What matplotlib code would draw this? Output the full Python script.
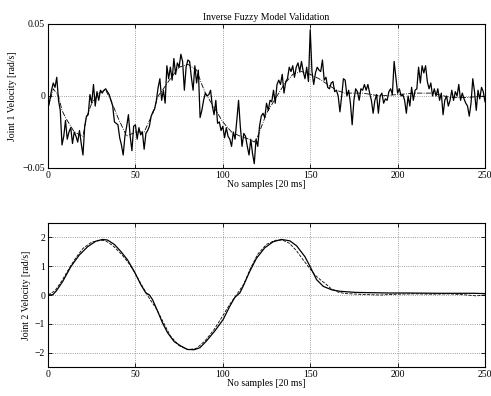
import numpy as np
import matplotlib
matplotlib.use('Agg')
import matplotlib.pyplot as plt

# joint 1 measured velocity, one value per sample (0..250)
j1_meas = [-0.0085, -0.003, 0.004, 0.009, 0.006, 0.013, -0.003, -0.010, -0.034, -0.028,
           -0.017, -0.030, -0.025, -0.022, -0.033, -0.025, -0.028, -0.032, -0.024, -0.033,
           -0.041, -0.021, -0.014, -0.013, 0.001, -0.005, 0.008, -0.007, 0.003, -0.003,
           0.004, 0.002, 0.004, 0.005, 0.003, 0.001, -0.003, -0.007, -0.018, -0.019,
           -0.020, -0.029, -0.034, -0.041, -0.028, -0.021, -0.013, -0.028, -0.038, -0.021,
           -0.020, -0.030, -0.022, -0.027, -0.025, -0.037, -0.026, -0.024, -0.021, -0.014,
           -0.011, -0.009, -0.003, 0.006, 0.012, -0.003, 0.004, -0.005, 0.021, 0.012,
           0.020, 0.011, 0.026, 0.015, 0.023, 0.020, 0.029, 0.024, 0.004, 0.020,
           0.025, 0.024, 0.013, 0.004, 0.021, 0.009, 0.018, -0.015, -0.010, -0.003,
           0.002, 0.000, 0.001, 0.004, -0.007, -0.013, -0.003, -0.019, -0.018, -0.024,
           -0.021, -0.029, -0.022, -0.028, -0.030, -0.035, -0.025, -0.030, -0.017, -0.003,
           -0.021, -0.035, -0.026, -0.028, -0.035, -0.041, -0.030, -0.040, -0.047, -0.030,
           -0.035, -0.021, -0.014, -0.012, -0.015, -0.005, -0.010, -0.003, -0.004, 0.004,
           -0.005, 0.008, 0.011, 0.008, 0.015, 0.002, 0.010, 0.012, 0.020, 0.017,
           0.021, 0.013, 0.020, 0.023, 0.017, 0.024, 0.017, 0.012, 0.020, 0.010,
           0.046, 0.017, 0.008, 0.016, 0.020, 0.018, 0.017, 0.025, 0.011, 0.013,
           0.006, 0.005, 0.009, 0.010, 0.003, 0.004, 0.000, -0.011, 0.000, 0.012,
           0.011, 0.000, 0.004, -0.005, -0.020, -0.003, 0.005, 0.003, -0.003, 0.005,
           0.004, 0.008, 0.004, 0.008, 0.002, -0.003, -0.012, -0.003, 0.001, -0.012,
           0.000, 0.002, -0.005, -0.002, -0.003, 0.003, 0.005, 0.001, 0.024, 0.013,
           0.002, 0.005, 0.000, 0.001, -0.003, -0.012, 0.000, -0.007, 0.006, -0.003,
           0.004, 0.005, 0.020, 0.009, 0.021, 0.016, 0.021, 0.010, 0.005, 0.009,
           0.000, 0.005, 0.000, 0.005, -0.003, 0.002, -0.013, -0.003, 0.000, -0.007,
           -0.003, 0.004, -0.003, 0.003, 0.000, 0.008, -0.003, 0.002, -0.002, -0.005,
           -0.007, -0.014, -0.005, 0.012, 0.003, -0.010, 0.004, -0.002, 0.006, 0.003,
           -0.004]

# joint 1 fuzzy model output
j1_mod_x = [0, 3, 6, 8, 10, 15, 20, 22, 25, 30, 33, 36, 40, 45, 50, 55, 60, 63, 66, 70,
            75, 80, 85, 88, 90, 95, 100, 105, 110, 115, 118, 120, 125, 130, 135, 140, 145,
            150, 155, 160, 165, 170, 180, 190, 200, 210, 220, 230, 240, 250]
j1_mod = [-0.008, 0.005, 0.0, -0.010, -0.015, -0.025, -0.028, -0.015, -0.005, 0.003, 0.004,
          -0.003, -0.015, -0.028, -0.025, -0.025, -0.012, 0.0, 0.005, 0.012,
          0.020, 0.022, 0.018, 0.008, 0.002, -0.008, -0.018, -0.025, -0.028, -0.030, -0.032,
          -0.028, -0.012, -0.002, 0.008, 0.015, 0.017,
          0.015, 0.012, 0.008, 0.004, 0.002, 0.002, 0.0, 0.001, 0.002, 0.002, -0.001, -0.001, 0.0]

# joint 2 measured velocity
j2_meas_x = [0, 2.7, 4.6, 8.4, 13.1, 17.9, 22.7, 27.4, 31.2, 34, 37.9, 41.7, 45.5, 49.3, 53.1,
             56, 57.9, 59.8, 62.7, 65.5, 68.4, 72.2, 76, 79.8, 83.6, 86.9, 90.6, 95.4, 100.2,
             104, 106.9, 109.7, 111.6, 115.4, 119.3, 124, 128.8, 133.6, 138.4, 142.2, 147,
             149.9, 153.7, 157.5, 162.3, 167, 176, 186, 195, 205, 224, 243, 250]
j2_meas = [0.0, 0.01, 0.13, 0.47, 0.99, 1.39, 1.68, 1.87, 1.93, 1.91, 1.76, 1.51, 1.22, 0.82,
           0.36, 0.07, 0.01, -0.16, -0.56, -0.97, -1.31, -1.62, -1.77, -1.89, -1.90, -1.83,
           -1.60, -1.25, -0.85, -0.39, -0.08, 0.07, 0.30, 0.82, 1.28, 1.64, 1.85, 1.93, 1.88,
           1.71, 1.33, 0.99, 0.53, 0.30, 0.18, 0.13, 0.09, 0.08, 0.07, 0.07, 0.06, 0.06, 0.05]

# joint 2 fuzzy model output
j2_mod_x = [0, 4, 8, 12, 16, 20, 25, 30, 33, 37, 42, 46, 50, 54, 58, 62, 66, 70, 75, 80, 85,
            90, 95, 100, 104, 108, 112, 116, 120, 125, 130, 134, 138, 142, 146, 150, 153, 156,
            159, 162, 166, 170, 180, 190, 200, 210, 220, 230, 240, 245, 250]
j2_mod = [0.0, 0.15, 0.50, 0.92, 1.30, 1.62, 1.84, 1.90, 1.88, 1.72, 1.42, 1.12, 0.74, 0.30,
          -0.12, -0.48, -0.95, -1.42, -1.76, -1.90, -1.85,
          -1.58, -1.20, -0.72, -0.32, 0.02, 0.38, 0.95, 1.42, 1.76, 1.90, 1.91, 1.80, 1.55,
          1.22, 0.90, 0.68, 0.52,
          0.38, 0.22, 0.10, 0.05, 0.02, 0.0, 0.03, 0.04, 0.03, 0.04, 0.0, -0.03, 0.0]

plt.rcParams['font.family'] = ['Liberation Serif', 'DejaVu Serif']
plt.rcParams['font.size'] = 7

fig = plt.figure(figsize=(4.91, 3.96), dpi=100)
ax1 = fig.add_axes([0.0978, 0.5758, 0.8900, 0.3636])
ax2 = fig.add_axes([0.0978, 0.0732, 0.8900, 0.3636])

ax1.plot(np.arange(len(j1_meas)), j1_meas, color='black', lw=0.9)
ax1.plot(j1_mod_x, j1_mod, color='black', lw=0.6, ls='-.')
ax1.set_ylim(-0.05, 0.05)
ax1.set_yticks([-0.05, 0, 0.05])
ax1.set_yticklabels(['\u22120.05', '0', '0.05'])
ax1.set_title('Inverse Fuzzy Model Validation', fontsize=7, pad=3)
ax1.set_ylabel('Joint 1 Velocity [rad/s]', labelpad=4)

ax2.plot(j2_meas_x, j2_meas, color='black', lw=0.9)
ax2.plot(j2_mod_x, j2_mod, color='black', lw=0.6, ls='--')
ax2.set_ylim(-2.5, 2.5)
ax2.set_yticks([-2, -1, 0, 1, 2])
ax2.set_yticklabels(['\u22122', '\u22121', '0', '1', '2'])
ax2.set_ylabel('Joint 2 Velocity [rad/s]', labelpad=3)

for ax in [ax1, ax2]:
    ax.set_xlim(0, 250)
    ax.set_xticks([0, 50, 100, 150, 200, 250])
    ax.set_xlabel('No samples [20 ms]', labelpad=0)
    ax.grid(True, ls=':', color='#808080', lw=0.6)
    ax.tick_params(direction='in', length=3, width=0.6, top=True, right=True, pad=2)
    for s in ax.spines.values():
        s.set_linewidth(0.8)

fig.savefig('out.png', dpi=100)
